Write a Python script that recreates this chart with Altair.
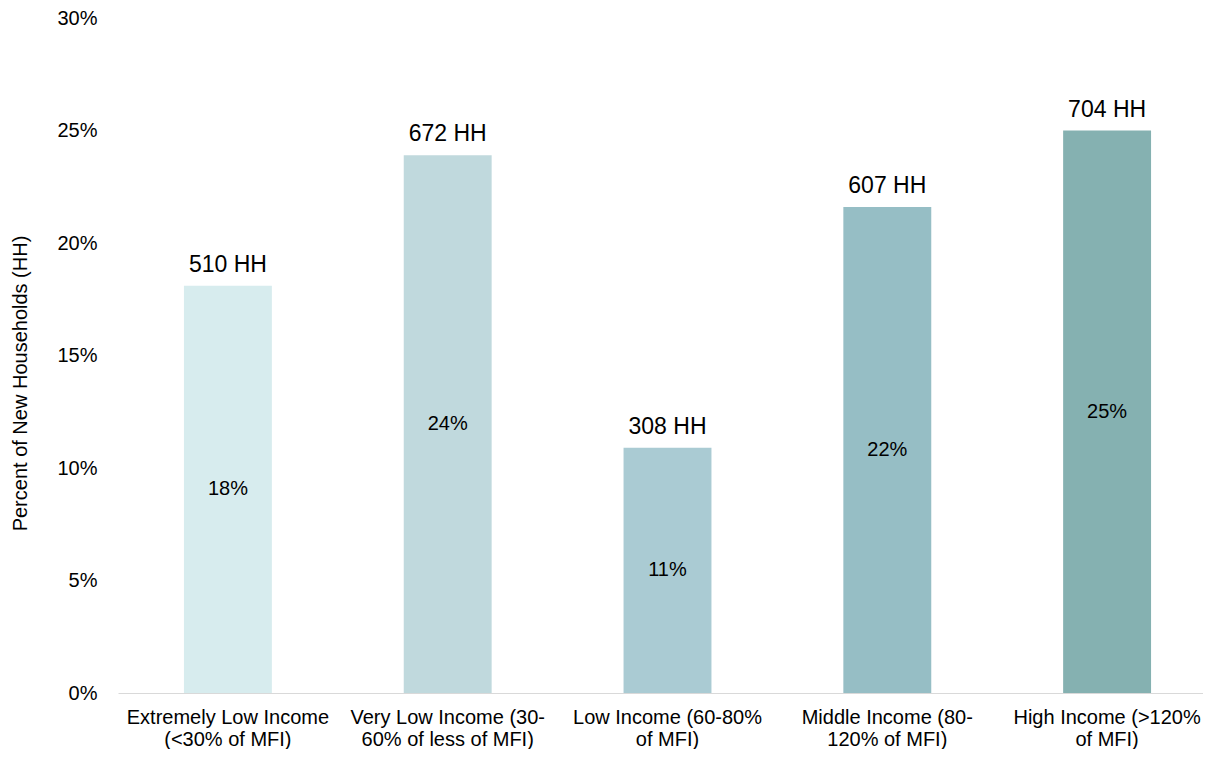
import altair as alt
import pandas as pd

categories = [
    "Extremely Low Income\n(<30% of MFI)",
    "Very Low Income (30-\n60% of less of MFI)",
    "Low Income (60-80%\nof MFI)",
    "Middle Income (80-\n120% of MFI)",
    "High Income (>120%\nof MFI)",
]
share = [18.1, 23.9, 10.9, 21.6, 25.0]
households = [510, 672, 308, 607, 704]
pct_labels = ["18%", "24%", "11%", "22%", "25%"]
colors = ["#D7ECEE", "#C0D9DD", "#AACBD3", "#96BEC5", "#85B1B1"]

df = pd.DataFrame({
    "cat": categories,
    "share": share,
    "hh": [f"{h} HH" for h in households],
    "pct": pct_labels,
})

FONT = "Liberation Sans"

xscale = alt.Scale(paddingInner=0.6, paddingOuter=0.3, range=[0, 1099])

x = alt.X(
    "cat:N",
    sort=categories,
    title=None,
    scale=xscale,
    axis=alt.Axis(
        labelAngle=0,
        labelExpr="split(datum.label, '\\n')",
        labelFontSize=20,
        labelFont=FONT,
        labelColor="#000000",
        labelLineHeight=22,
        labelPadding=14,
        labelBaseline="top",
        labelLimit=400,
        ticks=False,
        tickSize=0,
        domainColor="#D9D9D9",
        domainWidth=1,
        grid=False,
    ),
)

y = alt.Y(
    "share:Q",
    scale=alt.Scale(domain=[0, 30], nice=False),
    axis=alt.Axis(
        title="Percent of New Households (HH)",
        values=[0, 5, 10, 15, 20, 25, 30],
        labelExpr="datum.value + '%'",
        labelFontSize=20,
        labelFont=FONT,
        labelColor="#000000",
        labelPadding=21,
        ticks=False,
        tickSize=0,
        domain=False,
        grid=False,
        titleFont=FONT,
        titleFontSize=20,
        titleFontWeight="normal",
        titleColor="#000000",
        titleX=-92,
        titleY=365,
        titleAngle=-90,
        titleAlign="center",
        titleBaseline="alphabetic",
    ),
)

bars = alt.Chart(df).mark_bar().encode(
    x=x,
    y=y,
    color=alt.Color("cat:N", scale=alt.Scale(domain=categories, range=colors), legend=None),
)

hh_text = alt.Chart(df).mark_text(
    font=FONT, fontSize=23, color="#000000", baseline="alphabetic", dy=-14
).encode(
    x=alt.X("cat:N", sort=categories, scale=xscale),
    y=alt.Y("share:Q"),
    text="hh:N",
)

pct_text = alt.Chart(df).transform_calculate(
    mid="datum.share / 2"
).mark_text(
    font=FONT, fontSize=20, color="#000000", baseline="middle"
).encode(
    x=alt.X("cat:N", sort=categories, scale=xscale),
    y=alt.Y("mid:Q"),
    text="pct:N",
)

chart = alt.layer(bars, hh_text, pct_text).properties(
    width=1085,
    height=675,
    padding={"left": 110, "top": 10, "right": 0, "bottom": 56},
    autosize=alt.AutoSizeParams(type="none"),
    view=alt.ViewBackground(stroke="transparent", strokeWidth=0),
).configure_view(stroke="transparent", strokeWidth=0).configure_axisY(
    grid=False, domain=False
).configure(background="#FFFFFF")

chart.save("out.html", embed_options={"renderer": "svg", "actions": False})
